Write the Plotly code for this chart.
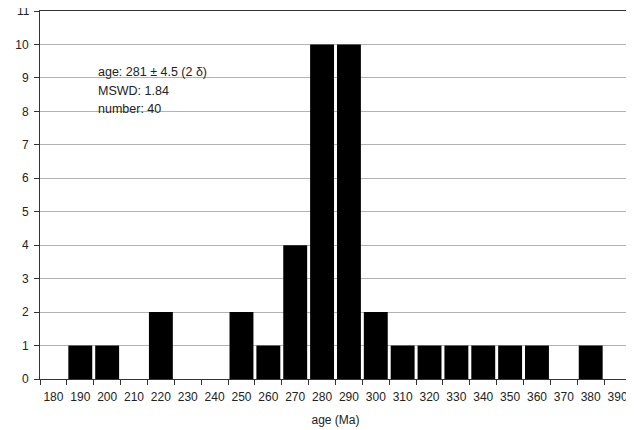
import plotly.graph_objects as go

categories = [str(v) for v in range(180, 400, 10)]
counts = [0, 1, 1, 0, 2, 0, 0, 2, 1, 4, 10, 10, 2, 1, 1, 1, 1, 1, 1, 0, 1, 0]
y_ticks = list(range(0, 12))
info_lines = ["age: 281 ± 4.5 (2 δ)", "MSWD: 1.84", "number: 40"]

# page body has an 8px default margin, so the figure is sized to fit the window
fig = go.Figure()
fig.add_trace(go.Bar(x=categories, y=counts, marker=dict(color="black", line=dict(width=0)),
                     showlegend=False))

fig.update_layout(
    width=626, height=422,
    margin=dict(l=32, r=3, t=3, b=51),
    plot_bgcolor="white", paper_bgcolor="white",
    bargap=0.11,
    font=dict(family="Liberation Sans, Arial, sans-serif", size=12, color="#222"),
)
fig.update_xaxes(
    type="category", categoryorder="array", categoryarray=categories,
    tickson="boundaries", ticks="outside", ticklen=5, tickcolor="#333",
    showline=True, linecolor="#333", linewidth=1, mirror=True,
    showgrid=False, tickangle=0, automargin=False, ticklabelstandoff=7,
    title=dict(text="age (Ma)", font=dict(size=12, color="#222"), standoff=12),
    tickfont=dict(size=12),
)
fig.update_yaxes(
    range=[0, 11], tickvals=y_ticks,
    ticktext=[str(v) for v in y_ticks[:-1]] + [""],
    ticks="outside", ticklen=5, tickcolor="#333",
    showline=True, linecolor="#333", linewidth=1, mirror=True,
    showgrid=True, gridcolor="#b3b3b3", gridwidth=1, automargin=False,
    zeroline=False, tickfont=dict(size=12), ticklabelstandoff=3,
)
# top tick label (would be hidden by plotly because it touches the edge)
fig.add_annotation(xref="paper", yref="y", x=0, y=y_ticks[-1], xanchor="right",
                   yanchor="middle", xshift=-8, yshift=0, showarrow=False,
                   text=str(y_ticks[-1]), font=dict(size=12, color="#222"))
fig.add_shape(type="rect", xref="paper", yref="paper",
              x0=(80 - 40) / 591, x1=(237 - 40) / 591,
              y0=(379 - 125) / 368, y1=(379 - 52) / 368,
              fillcolor="white", line=dict(width=0), layer="below")
for i, line in enumerate(info_lines):
    yc = 72 + i * 18.5
    fig.add_annotation(xref="paper", yref="paper",
                       x=(96 - 40) / 591, y=(379 - yc) / 368,
                       xanchor="left", yanchor="middle", align="left", showarrow=False,
                       text=line, font=dict(size=12.5, color="#222"))
fig.write_html("out.html")
